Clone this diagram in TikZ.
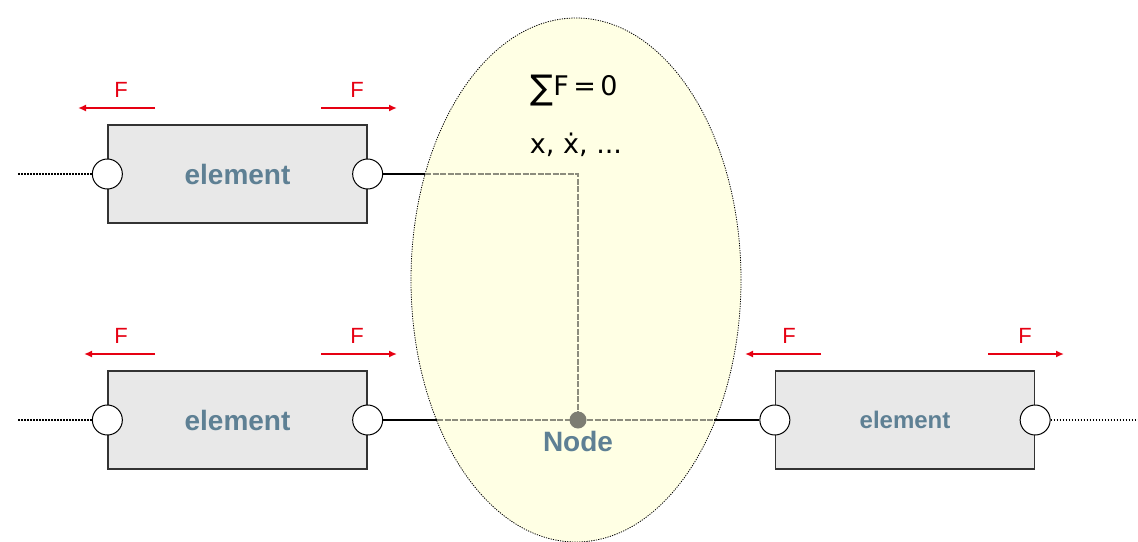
\documentclass[tikz,border=0pt]{standalone}
\usepackage{fontspec}
\setmainfont{Liberation Sans}
\newfontfamily\dejavu{DejaVu Sans}
\usetikzlibrary{shapes.geometric,arrows.meta}
\definecolor{ellfill}{RGB}{255,255,228}
\definecolor{boxfill}{RGB}{232,232,232}
\definecolor{labblue}{RGB}{94,128,148}
\definecolor{fred}{RGB}{230,0,18}
\definecolor{linkgray}{RGB}{140,140,125}
\definecolor{dotgray}{RGB}{125,125,115}
\tikzset{
  elembox/.style={draw=black!80, line width=1.3pt, fill=boxfill, inner sep=0pt,
    minimum width=259pt, minimum height=98pt, text=labblue,
    font=\fontsize{28}{28}\selectfont\bfseries},
  port/.style={circle, draw=black, line width=1pt, fill=white, minimum size=30pt, inner sep=0pt},
  farrow/.style={draw=fred, line width=2pt, -{Latex[length=8pt,width=7pt]}},
  flabel/.style={text=fred, font=\fontsize{22}{22}\selectfont},
  link/.style={draw=black, line width=2.2pt},
  loose/.style={draw=black, line width=1.3pt, dash pattern=on 1.5pt off 1.5pt},
  glink/.style={draw=linkgray, line width=2.2pt, dash pattern=on 6pt off 1.5pt},
}
\begin{document}
\begin{tikzpicture}[x=1pt,y=-1pt]
\useasboundingbox (0,0) rectangle (1138,541);
% ellipse (control volume)
\node[ellipse, draw=black, line width=0.8pt, dash pattern=on 1.2pt off 1.2pt, fill=ellfill,
      minimum width=330pt, minimum height=524pt, inner sep=0pt] (ell) at (576,280) {};
\node[font=\dejavu\fontsize{27}{27}\selectfont, anchor=base] (sum) at (574,95)
  {\raisebox{-4pt}{\fontsize{34}{34}\selectfont ∑}F\,=\,0};
\node[font=\dejavu\fontsize{27}{27}\selectfont, anchor=base] (state) at (576,153) {x, ẋ, ...};

% elements
\node[elembox] (e1) at (237.5,174) {element};
\node[elembox] (e2) at (237.5,420) {element};
\node[elembox, font=\fontsize{24}{24}\selectfont\bfseries] (e3) at (905,420) {element};
\foreach \e in {e1,e2,e3}{
  \node[port] (\e l) at (\e.west) {};
  \node[port] (\e r) at (\e.east) {};
}

% free ends and ellipse crossings
\coordinate (d1) at (17,174);
\coordinate (d2) at (17,420);
\coordinate (d3) at (1138,420);
\coordinate (x1) at (425,174);
\coordinate (x2) at (437,420);
\coordinate (x3) at (714,420);
\coordinate (k1) at (578,174);

% node
\coordinate (nd) at (578,420);

% connectors
\draw[loose] (e1l) -- (d1);
\draw[loose] (e2l) -- (d2);
\draw[loose] (e3r) -- (d3);
\draw[link] (e1r) -- (x1);
\draw[link] (e2r) -- (x2);
\draw[link] (e3l) -- (x3);
\draw[glink] (x1) -- (k1) -- (nd);
\draw[glink] (x2) -- (nd) -- (x3);
\node[circle, fill=dotgray, minimum size=17pt, inner sep=0pt] (ndot) at (nd) {};
\node[text=labblue, font=\fontsize{28}{28}\selectfont\bfseries, anchor=base] (ndl) at (578,451) {Node};

% force arrows
\coordinate (a1s) at (155,108); \coordinate (a1e) at (78,108);
\coordinate (a2s) at (321,108); \coordinate (a2e) at (397,108);
\coordinate (a3s) at (155,354); \coordinate (a3e) at (84,354);
\coordinate (a4s) at (321,354); \coordinate (a4e) at (397,354);
\coordinate (a5s) at (821,354); \coordinate (a5e) at (745,354);
\coordinate (a6s) at (988,354); \coordinate (a6e) at (1064,354);
\draw[farrow] (a1s) -- (a1e);
\draw[farrow] (a2s) -- (a2e);
\draw[farrow] (a3s) -- (a3e);
\draw[farrow] (a4s) -- (a4e);
\draw[farrow] (a5s) -- (a5e);
\draw[farrow] (a6s) -- (a6e);
\node[flabel, anchor=base] (f1) at (121,97) {F};
\node[flabel, anchor=base] (f2) at (357,97) {F};
\node[flabel, anchor=base] (f3) at (121,343) {F};
\node[flabel, anchor=base] (f4) at (357,343) {F};
\node[flabel, anchor=base] (f5) at (789,343) {F};
\node[flabel, anchor=base] (f6) at (1025,343) {F};
\end{tikzpicture}
\end{document}
